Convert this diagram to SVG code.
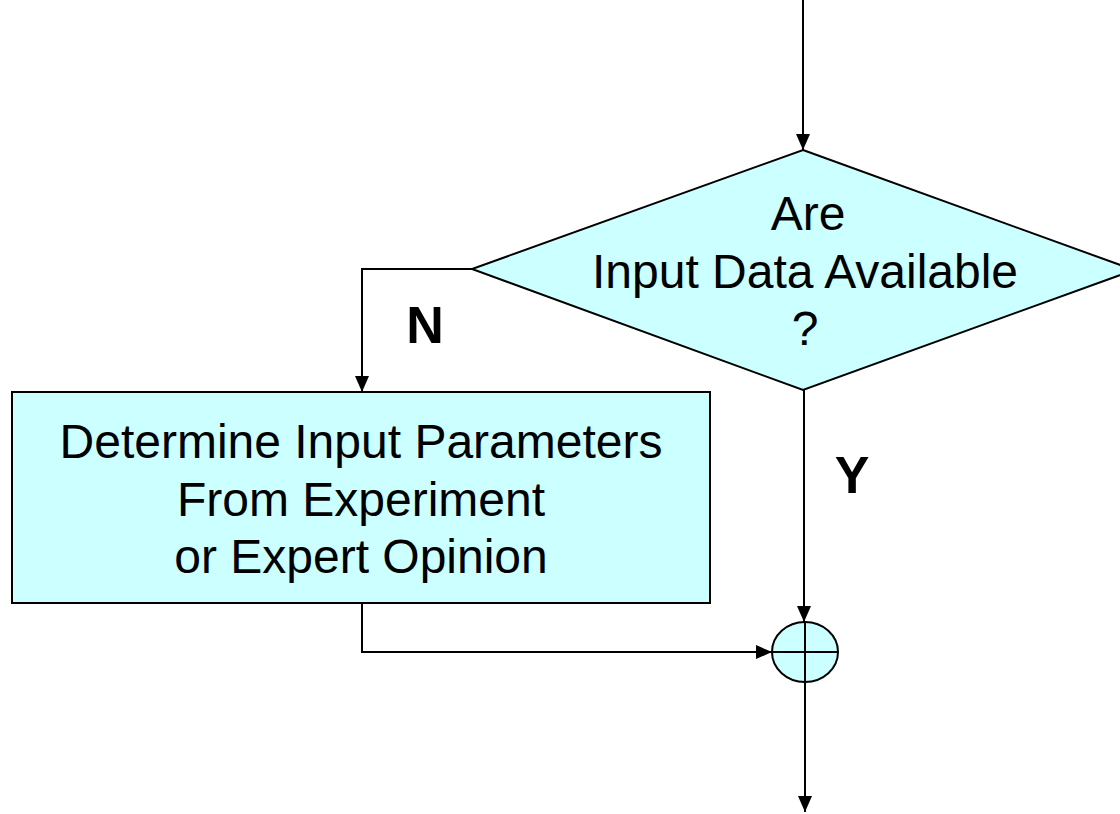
<svg xmlns="http://www.w3.org/2000/svg" width="1120" height="814" viewBox="0 0 1120 814">
<defs>
<marker id="ah" markerWidth="16" markerHeight="14" refX="16" refY="7" orient="auto" markerUnits="userSpaceOnUse">
<path d="M0,0 L16,7 L0,14 Z" fill="#000"/>
</marker>
<style>
.shape{fill:#CCFFFF;stroke:#000;stroke-width:2}
.conn{fill:none;stroke:#000;stroke-width:2;marker-end:url(#ah)}
.t{font-family:"Liberation Sans",Arial,sans-serif;font-size:48px;fill:#000;text-anchor:middle}
.b{font-family:"Liberation Sans",Arial,sans-serif;font-size:52px;font-weight:bold;fill:#000;text-anchor:middle}
</style>
</defs>
<rect width="1120" height="814" fill="#fff"/>
<g id="connectors">
<path class="conn" d="M803,0 V150"/>
<path class="conn" d="M472,269 H362 V392"/>
<path class="conn" d="M804,390 V622"/>
<path class="conn" d="M362,603 V652 H772"/>
<path class="conn" d="M805,683 V812"/>
</g>
<g id="decision">
<polygon class="shape" points="803,150 1134,270 803,390 472,269"/>
<text class="t" x="808" y="230">Are</text>
<text class="t" x="805" y="288">Input Data Available</text>
<text class="t" x="805" y="345">?</text>
</g>
<g id="process">
<rect class="shape" x="12" y="392" width="698" height="211"/>
<text class="t" x="361" y="458">Determine Input Parameters</text>
<text class="t" x="361" y="516">From Experiment</text>
<text class="t" x="361" y="573">or Expert Opinion</text>
</g>
<g id="junction">
<ellipse class="shape" cx="805" cy="652" rx="33" ry="30"/>
<path d="M805,622 V682 M772,652 H838" stroke="#000" stroke-width="2"/>
</g>
<g id="labels">
<text class="b" x="425" y="343">N</text>
<text class="b" x="852" y="493">Y</text>
</g>
</svg>
